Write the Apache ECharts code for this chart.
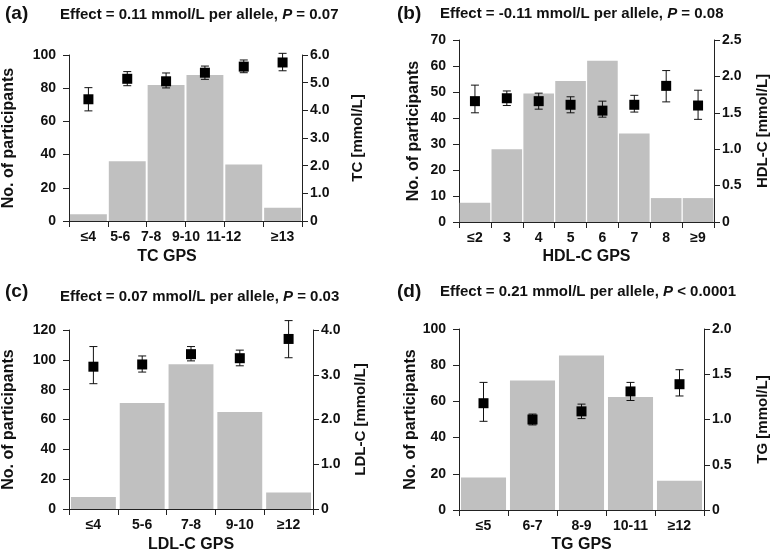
<!DOCTYPE html>
<html><head><meta charset="utf-8">
<script src="https://cdn.jsdelivr.net/npm/echarts@6/dist/echarts.min.js"></script>
<style>html,body{margin:0;padding:0;background:#fff}#c{width:771px;height:556px}</style>
</head><body><div id="c"></div>
<script>
// ---- Panel (a): TC ----
const catsA = ['≤4', '5-6', '7-8', '9-10', '11-12', '≥13'];
const countsA = [4, 36, 82, 88, 34, 8];
const meanA = [4.40, 5.14, 5.05, 5.36, 5.58, 5.73];
const lowA = [3.98, 4.89, 4.81, 5.12, 5.36, 5.43];
const highA = [4.82, 5.40, 5.35, 5.60, 5.82, 6.06];
// ---- Panel (b): HDL-C ----
const catsB = ['≤2', '3', '4', '5', '6', '7', '8', '≥9'];
const countsB = [7.4, 28, 49.4, 54.2, 62, 34, 9.2, 9.2];
const meanB = [1.66, 1.70, 1.66, 1.61, 1.53, 1.61, 1.87, 1.60];
const lowB = [1.50, 1.60, 1.55, 1.50, 1.44, 1.51, 1.65, 1.41];
const highB = [1.88, 1.80, 1.77, 1.72, 1.66, 1.74, 2.08, 1.81];
// ---- Panel (c): LDL-C ----
const catsC = ['≤4', '5-6', '7-8', '9-10', '≥12'];
const countsC = [8, 71, 97, 65, 11];
const meanC = [3.18, 3.23, 3.46, 3.37, 3.80];
const lowC = [2.80, 3.06, 3.31, 3.20, 3.38];
const highC = [3.63, 3.42, 3.63, 3.55, 4.21];
// ---- Panel (d): TG ----
const catsD = ['≤5', '6-7', '8-9', '10-11', '≥12'];
const countsD = [18, 71.5, 85.3, 62.4, 16.2];
const meanD = [1.18, 1.00, 1.09, 1.31, 1.39];
const lowD = [0.98, 0.94, 1.01, 1.21, 1.26];
const highD = [1.41, 1.06, 1.17, 1.41, 1.55];

const panelLetters = ['(a)', '(b)', '(c)', '(d)'];
const effectTexts = [
  ['Effect = 0.11 mmol/L per allele, ', ' = 0.07'],
  ['Effect = -0.11 mmol/L per allele, ', ' = 0.08'],
  ['Effect = 0.07 mmol/L per allele, ', ' = 0.03'],
  ['Effect = 0.21 mmol/L per allele, ', ' < 0.0001']
];
const xNames = ['TC GPS', 'HDL-C GPS', 'LDL-C GPS', 'TG GPS'];
const rightNames = ['TC [mmol/L]', 'HDL-C [mmol/L]', 'LDL-C [mmol/L]', 'TG [mmol/L]'];
const leftName = 'No. of participants';

const FONT = "'Liberation Sans', Arial, Helvetica, sans-serif";
const TXT = '#111';
const BAR = '#c0c0c0';

const panels = [
  {cats: catsA, counts: countsA, mean: meanA, low: lowA, high: highA,
   grid: {left: 67, top: 55, width: 235, height: 166},
   lmax: 100, lint: 20, rmax: 6, rint: 1, rdec: 1, gap: '5%',
   lGap: 52, rGap: 48, xGap: 28, xNamePad: [0, 37, 0, 0],
   labelShift: [0, 14, 30, 38, 40, 0]},
  {cats: catsB, counts: countsB, mean: meanB, low: lowB, high: highB,
   grid: {left: 459, top: 40, width: 257, height: 182},
   lmax: 70, lint: 10, rmax: 2.5, rint: 0.5, rdec: 1, gap: '4%',
   lGap: 37, rGap: 41, xGap: 27, xNamePad: [0, 0, 0, 0],
   labelShift: null},
  {cats: catsC, counts: countsC, mean: meanC, low: lowC, high: highC,
   grid: {left: 67, top: 330, width: 246, height: 179},
   lmax: 120, lint: 20, rmax: 4, rint: 1, rdec: 1, gap: '8%',
   lGap: 52, rGap: 40, xGap: 28, xNamePad: [0, 0, 0, 0],
   labelShift: null},
  {cats: catsD, counts: countsD, mean: meanD, low: lowD, high: highD,
   grid: {left: 459, top: 329, width: 248, height: 181},
   lmax: 100, lint: 20, rmax: 2, rint: 0.5, rdec: 1, gap: '8%',
   lGap: 37, rGap: 51, xGap: 27, xNamePad: [0, 0, 0, 0],
   labelShift: null}
];

const grids = [], xAxes = [], yAxes = [], series = [];
const axisLineStyle = {show: true, lineStyle: {color: '#222', width: 1}};
const tickStyle = {show: true, length: 6, lineStyle: {color: '#222', width: 1}};
const tickLabel = {color: TXT, fontFamily: FONT, fontWeight: 'bold', fontSize: 14};

panels.forEach((p, i) => {
  grids.push(Object.assign({containLabel: false}, p.grid));
  const xLabel = Object.assign({}, tickLabel, {margin: 9, interval: 0});
  if (p.labelShift) {
    const rich = {};
    p.labelShift.forEach((s, k) => {
      rich['s' + k] = {fontFamily: FONT, fontWeight: 'bold', fontSize: 14, color: TXT, padding: [0, s, 0, 0]};
    });
    xLabel.formatter = (v, k) => '{s' + k + '|' + v + '}';
    xLabel.rich = rich;
  }
  xAxes.push({
    type: 'category', gridIndex: i, data: p.cats,
    axisLine: axisLineStyle, axisTick: Object.assign({}, tickStyle, {interval: 0}),
    axisLabel: xLabel, splitLine: {show: false},
    name: xNames[i], nameLocation: 'middle', nameGap: p.xGap,
    nameTextStyle: {color: TXT, fontFamily: FONT, fontWeight: 'bold', fontSize: 16, padding: p.xNamePad}
  });
  yAxes.push({
    type: 'value', gridIndex: i, position: 'left', min: 0, max: p.lmax, interval: p.lint,
    axisLine: axisLineStyle, axisTick: tickStyle,
    axisLabel: Object.assign({}, tickLabel, {margin: 13}), splitLine: {show: false},
    name: leftName, nameLocation: 'middle', nameGap: p.lGap, nameRotate: 90,
    nameTextStyle: {color: TXT, fontFamily: FONT, fontWeight: 'bold', fontSize: 16}
  });
  yAxes.push({
    type: 'value', gridIndex: i, position: 'right', min: 0, max: p.rmax, interval: p.rint,
    axisLine: axisLineStyle, axisTick: tickStyle,
    axisLabel: Object.assign({}, tickLabel, {margin: 8,
      formatter: v => v === 0 ? '0' : v.toFixed(p.rdec)}),
    splitLine: {show: false},
    name: rightNames[i], nameLocation: 'middle', nameGap: p.rGap, nameRotate: 90,
    nameTextStyle: {color: TXT, fontFamily: FONT, fontWeight: 'bold', fontSize: 15}
  });
  series.push({
    type: 'bar', xAxisIndex: i, yAxisIndex: 2 * i, data: p.counts,
    barCategoryGap: p.gap, itemStyle: {color: BAR}, silent: true
  });
  series.push({
    type: 'custom', xAxisIndex: i, yAxisIndex: 2 * i + 1,
    data: p.cats.map((c, k) => [k, p.low[k], p.high[k]]),
    renderItem: (params, api) => {
      const lo = api.coord([api.value(0), api.value(1)]);
      const hi = api.coord([api.value(0), api.value(2)]);
      const w = 4;
      const st = {stroke: '#111', lineWidth: 1};
      return {type: 'group', children: [
        {type: 'line', shape: {x1: lo[0], y1: lo[1], x2: hi[0], y2: hi[1]}, style: st},
        {type: 'line', shape: {x1: lo[0] - w, y1: lo[1], x2: lo[0] + w, y2: lo[1]}, style: st},
        {type: 'line', shape: {x1: hi[0] - w, y1: hi[1], x2: hi[0] + w, y2: hi[1]}, style: st}
      ]};
    },
    silent: true, z: 3
  });
  series.push({
    type: 'scatter', xAxisIndex: i, yAxisIndex: 2 * i + 1, data: p.mean,
    symbol: 'rect', symbolSize: 10, itemStyle: {color: '#000', opacity: 1}, silent: true, z: 4
  });
});

const letterPos = [[5, 15], [397, 15], [5, 293], [397, 293]];
const effectPos = [[60, 16], [440, 15], [60, 298], [440, 293]];
const graphic = [];
panelLetters.forEach((t, i) => {
  graphic.push({type: 'text', left: letterPos[i][0], top: letterPos[i][1] - 11,
    style: {text: t, font: 'bold 19px ' + FONT, fill: TXT}});
  graphic.push({type: 'text', left: effectPos[i][0], top: effectPos[i][1] - 9,
    style: {text: '{n|' + effectTexts[i][0] + '}{i|P}{n|' + effectTexts[i][1] + '}',
      rich: {n: {font: 'bold 15px ' + FONT, fill: TXT},
             i: {font: 'italic bold 15px ' + FONT, fill: TXT}}}});
});

const chart = echarts.init(document.getElementById('c'), null, {renderer: 'canvas'});
chart.setOption({
  animation: false, backgroundColor: '#fff',
  grid: grids, xAxis: xAxes, yAxis: yAxes, series: series, graphic: graphic
});
</script></body></html>
